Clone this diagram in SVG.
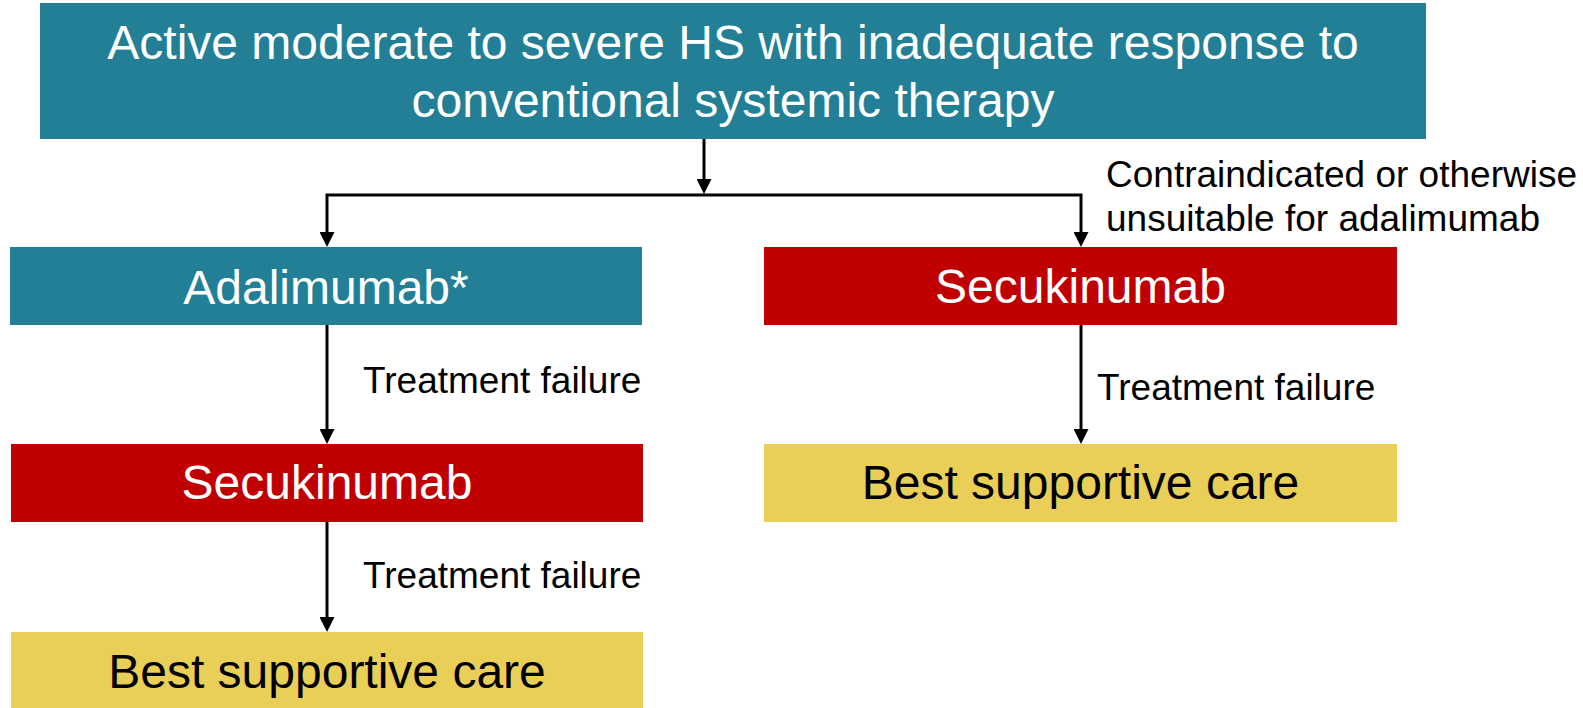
<svg xmlns="http://www.w3.org/2000/svg" width="1583" height="708" viewBox="0 0 1583 708">
<style>
.teal{fill:#227F96}
.red{fill:#C00000}
.yel{fill:#E9CF57}
.nt{font-family:"Liberation Sans",Arial,sans-serif;font-size:48px;text-anchor:middle}
.w{fill:#FFFFFF}
.k{fill:#000000}
.lbl{font-family:"Liberation Sans",Arial,sans-serif;font-size:37px;fill:#000000}
.conn{fill:none;stroke:#000000;stroke-width:3;stroke-linejoin:miter;marker-end:url(#arr)}
</style>
<defs>
<marker id="arr" viewBox="0 0 15 15" refX="10" refY="7.5" markerWidth="15" markerHeight="15" markerUnits="userSpaceOnUse" orient="auto">
<path d="M0,0 L15,7.5 L0,15 z" fill="#000000"/>
</marker>
</defs>
<rect width="1583" height="708" fill="#FFFFFF"/>
<g id="connectors">
<path class="conn" d="M704,139 L704,189"/>
<path class="conn" d="M704,195 L327,195 L327,242"/>
<path class="conn" d="M704,195 L1081,195 L1081,242"/>
<path class="conn" d="M327,325 L327,439"/>
<path class="conn" d="M327,522 L327,627"/>
<path class="conn" d="M1081,325 L1081,439"/>
<text class="lbl" x="1106" y="187">Contraindicated or otherwise</text>
<text class="lbl" x="1106" y="231">unsuitable for adalimumab</text>
<text class="lbl" x="363" y="393">Treatment failure</text>
<text class="lbl" x="363" y="588">Treatment failure</text>
<text class="lbl" x="1097" y="400">Treatment failure</text>
</g>
<g id="start">
<rect class="teal" x="40" y="3" width="1386" height="136"/>
<text class="nt w" x="733" y="59">Active moderate to severe HS with inadequate response to</text>
<text class="nt w" x="733" y="117">conventional systemic therapy</text>
</g>
<g id="adalimumab">
<rect class="teal" x="10" y="247" width="632" height="78"/>
<text class="nt w" x="326" y="304">Adalimumab*</text>
</g>
<g id="secukinumab-left">
<rect class="red" x="11" y="444" width="632" height="78"/>
<text class="nt w" x="327" y="499">Secukinumab</text>
</g>
<g id="bsc-left">
<rect class="yel" x="11" y="632" width="632" height="76"/>
<text class="nt k" x="327" y="688">Best supportive care</text>
</g>
<g id="secukinumab-right">
<rect class="red" x="764" y="247" width="633" height="78"/>
<text class="nt w" x="1080.5" y="303">Secukinumab</text>
</g>
<g id="bsc-right">
<rect class="yel" x="764" y="444" width="633" height="78"/>
<text class="nt k" x="1080.5" y="499">Best supportive care</text>
</g>
</svg>
